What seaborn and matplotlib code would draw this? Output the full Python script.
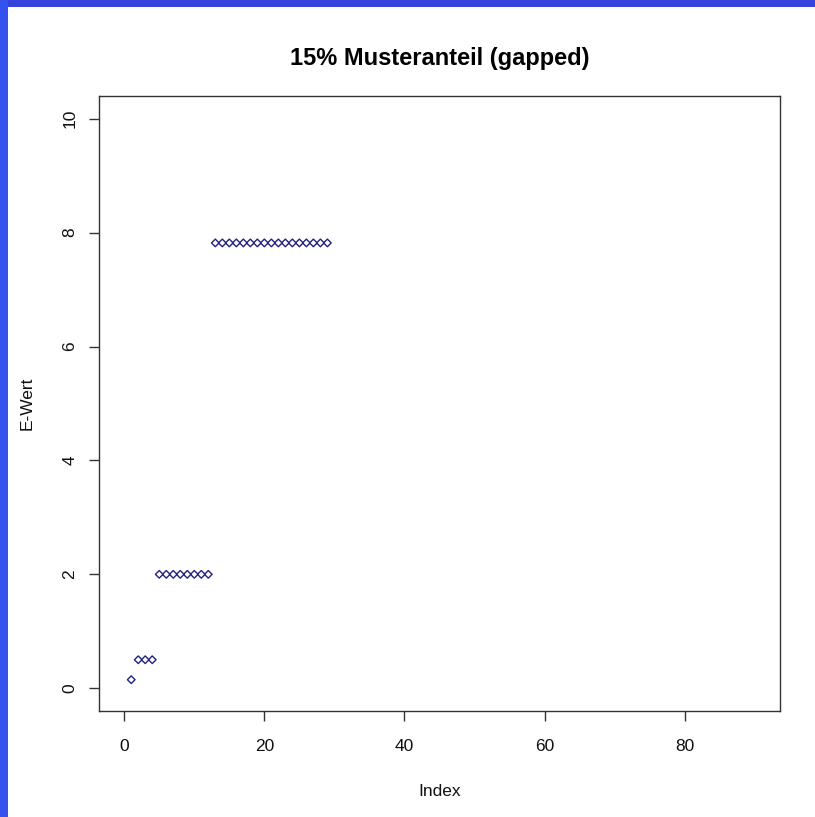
import matplotlib
matplotlib.use("Agg")
import matplotlib.pyplot as plt
from matplotlib.patches import Rectangle
import seaborn as sns
import pandas as pd

# ---- data ----
index = list(range(1, 30))
e_wert = [0.15,
          0.5, 0.5, 0.5,
          2.0, 2.0, 2.0, 2.0, 2.0, 2.0, 2.0, 2.0,
          7.82, 7.82, 7.82, 7.82, 7.82, 7.82, 7.82, 7.82, 7.82,
          7.82, 7.82, 7.82, 7.82, 7.82, 7.82, 7.82, 7.82]
x_ticks = [0, 20, 40, 60, 80]
y_ticks = [0, 2, 4, 6, 8, 10]
title = "15% Musteranteil (gapped)"
x_label = "Index"
y_label = "E-Wert"

df = pd.DataFrame({"Index": index, "E-Wert": e_wert})

sns.set_style("white")
plt.rcParams["font.family"] = ["Liberation Sans", "DejaVu Sans"]

W, H = 815, 817
fig = plt.figure(figsize=(W / 100, H / 100), dpi=100)
fig.patch.set_facecolor("white")

left, right, top, bottom = 99, 780, 96, 711
ax = fig.add_axes([left / W, 1 - bottom / H, (right - left) / W, (bottom - top) / H])

sns.scatterplot(data=df, x="Index", y="E-Wert", ax=ax, marker="D", s=15,
                facecolor="none", edgecolor="#22227E", linewidth=1.0, legend=False)

ax.set_xlim(-3.6, 93.6)
ax.set_ylim(-0.4, 10.4)
ax.set_xticks(x_ticks)
ax.set_yticks(y_ticks)
ax.set_xticklabels([str(v) for v in x_ticks])
ax.set_yticklabels([str(v) for v in y_ticks], rotation=90, va="center")

for s in ax.spines.values():
    s.set_visible(True)
    s.set_color("#333333")
    s.set_linewidth(1.0)

ax.tick_params(axis="both", direction="out", length=7.5, width=1.0, color="#333333",
               labelsize=12.5, labelcolor="#111111")
ax.tick_params(axis="x", pad=13, bottom=True)
ax.tick_params(axis="y", pad=8, left=True)

ax.set_title(title, fontsize=17, fontweight="bold", pad=22, color="#000000")
ax.set_xlabel(x_label, fontsize=12.5, labelpad=21, color="#111111")
ax.set_ylabel(y_label, fontsize=12.5, labelpad=20, color="#111111")

# blue frame bands
fig.patches.append(Rectangle((0, 1 - 7 / H), 1, 7 / H, transform=fig.transFigure,
                             facecolor="#3344DD", edgecolor="none", zorder=10))
fig.patches.append(Rectangle((0, 0), 8 / W, 1, transform=fig.transFigure,
                             facecolor="#3352EE", edgecolor="none", zorder=10))

fig.savefig("out.png", dpi=100)
